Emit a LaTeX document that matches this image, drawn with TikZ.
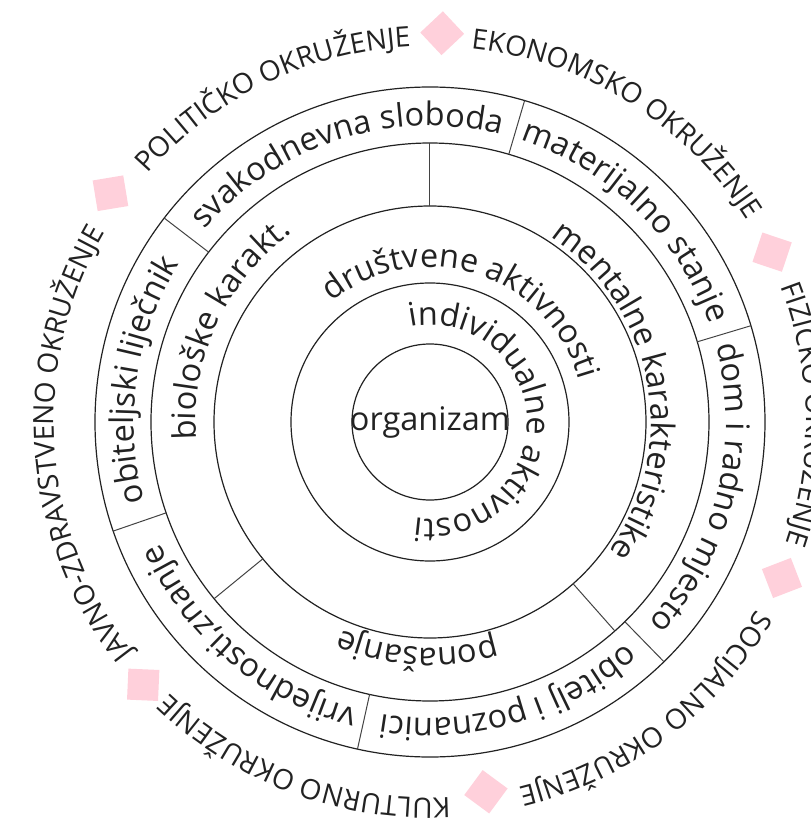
\documentclass[tikz,border=0pt]{standalone}
\usepackage{fontspec}
\setmainfont{Open Sans}
\usetikzlibrary{decorations.text}
\definecolor{ink}{HTML}{222222}
\definecolor{markpink}{RGB}{255,208,219}
\newcommand\innerfont{\fontsize{32.5}{32.5}\selectfont}
\newcommand\outerfont{\fontsize{28}{28}\selectfont}
% radius, mid angle, font, text
\newcommand\arctext[4]{%
  \path[decorate, decoration={text along path, text align=center,
    text color=ink, text={|#3|#4}}]
    (#2+170:#1) arc[start angle=#2+170, end angle=#2-170, radius=#1];}
\tikzset{
  ring/.style={circle, draw=ink, line width=1.2pt, inner sep=0pt, fill=none},
  divider/.style={draw=ink!85, line width=1pt},
  marker/.style={rectangle, fill=markpink, minimum size=31pt, inner sep=0pt},
}
\begin{document}
\begin{tikzpicture}
\fill[white] (-430pt,-401pt) rectangle (381pt,422pt);
\useasboundingbox (-430pt,-401pt) rectangle (381pt,422pt);

% circles
\node[ring, minimum size=156pt] (c1) at (0,0) {};
\node[ring, minimum size=278pt] (c2) at (0,0) {};
\node[ring, minimum size=432pt] (c3) at (0,0) {};
\node[ring, minimum size=558pt] (c4) at (0,0) {};
\node[ring, minimum size=670pt] (c5) at (0,0) {};

% dividers ring 3
\foreach \a in {90, 219.3, 311.5}
  \draw[divider] (\a:216pt) -- (\a:279pt);
% dividers ring 4
\foreach \a in {73.6, 142.5, 16.7, -45.7, 257.5, 199}
  \draw[divider] (\a:279pt) -- (\a:335pt);

% centre
\node[text=ink, font=\innerfont] (org) at (0,0) {organizam};

% ring 1
\arctext{97pt}{1.6}{\innerfont}{individualne aktivnosti}
% ring 2
\arctext{155pt}{72.5}{\innerfont}{društvene aktivnosti}
% ring 3
\arctext{234pt}{155.2}{\innerfont}{biološke karakt.}
\arctext{221pt}{10.5}{\innerfont}{mentalne karakteristike}
\arctext{226pt}{266.8}{\innerfont}{ponašanje}
% ring 4
\arctext{296pt}{107.8}{\innerfont}{svakodnevna sloboda}
\arctext{296pt}{45.7}{\innerfont}{materijalno stanje}
\arctext{296pt}{-13.75}{\innerfont}{dom i radno mjesto}
\arctext{296pt}{-73.9}{\innerfont}{obitelj i poznanici}
\arctext{296pt}{230}{\innerfont}{vrijednosti,znanje}
\arctext{296pt}{171.6}{\innerfont}{obiteljski liječnik}

% outer
\arctext{376pt}{115.8}{\outerfont}{POLITIČKO OKRUŽENJE}
\arctext{376pt}{58.1}{\outerfont}{EKONOMSKO OKRUŽENJE}
\arctext{376pt}{1.15}{\outerfont}{FIZIČKO OKRUŽENJE}
\arctext{376pt}{-53.15}{\outerfont}{SOCIJALNO OKRUŽENJE}
\arctext{376pt}{-110.4}{\outerfont}{KULTURNO OKRUŽENJE}
\arctext{376pt}{183.75}{\outerfont}{JAVNO-ZDRAVSTVENO OKRUŽENJE}

% markers
\node[marker, rotate=88.2-45] (m1) at (88.2:389pt) {};
\node[marker, rotate=144.4-45] (m2) at (144.4:393pt) {};
\node[marker, rotate=26.4-45] (m3) at (26.4:382pt) {};
\node[marker, rotate=-23.9-45] (m4) at (-23.9:385pt) {};
\node[marker, rotate=-81.4-45] (m5) at (-81.4:374pt) {};
\node[marker, rotate=222.5-45] (m6) at (222.5:389pt) {};
\end{tikzpicture}
\end{document}
